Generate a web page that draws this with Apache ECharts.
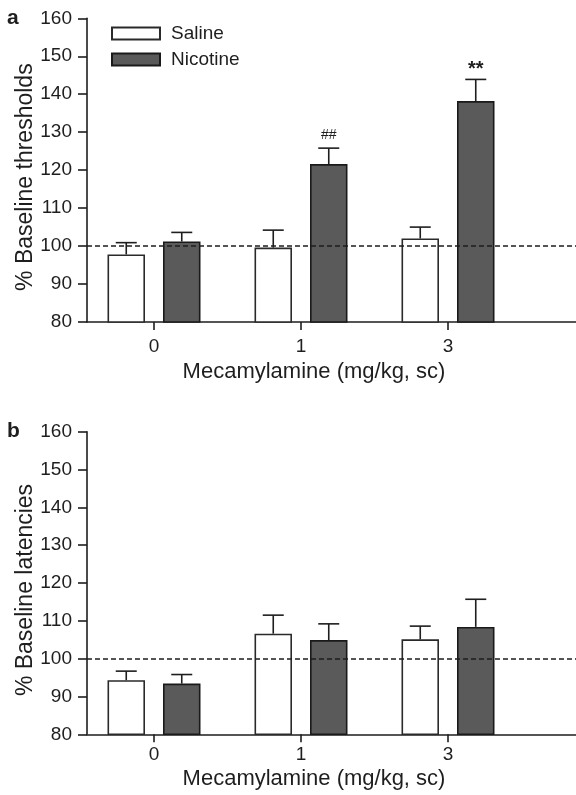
<!DOCTYPE html>
<html>
<head>
<meta charset="utf-8">
<script src="https://cdn.jsdelivr.net/npm/echarts@6/dist/echarts.min.js"></script>
<style>html,body{margin:0;padding:0;background:#fff;}#chart{width:576px;height:795px;}</style>
</head>
<body>
<div id="chart"></div>
<script>
// ---- data ----
const categories = ['0', '1', '3'];
const seriesNames = ['Saline', 'Nicotine'];
const yMin = 80, yMax = 160, yStep = 10;
const refValue = 100;

// Panel a: % Baseline thresholds
const thrSalineMean = [97.8, 99.6, 102.0];
const thrSalineSem = [3.1, 4.6, 3.0];
const thrNicotineMean = [101.2, 121.6, 138.2];
const thrNicotineSem = [2.4, 4.2, 5.7];
const thrSalineSig = ['', '', ''];
const thrNicotineSig = ['', '##', '**'];

// Panel b: % Baseline latencies
const latSalineMean = [94.3, 106.6, 105.1];
const latSalineSem = [2.4, 4.9, 3.5];
const latNicotineMean = [93.4, 104.9, 108.4];
const latNicotineSem = [2.4, 4.3, 7.3];
const latSalineSig = ['', '', ''];
const latNicotineSig = ['', '', ''];

const panelLabels = ['a', 'b'];
const yTitles = ['% Baseline thresholds', '% Baseline latencies'];
const xTitle = 'Mecamylamine (mg/kg, sc)';

// ---- style ----
const FONT = "'Liberation Sans', Arial, Helvetica, sans-serif";
const INK = '#1e1e1e';
const BAR_W = 37.5;
const BAR_GAP_PX = 18;
const HALF_OFF = (BAR_W + BAR_GAP_PX) / 2;
const CAP_HALF = 10.5;

const panels = [
  { top: 18.3, height: 303.7, tickMargin: 15, nameGap: 39, labelTop: 8,
    sal: thrSalineMean, salSem: thrSalineSem, nic: thrNicotineMean, nicSem: thrNicotineSem,
    salSig: thrSalineSig, nicSig: thrNicotineSig },
  { top: 431.7, height: 302.6, tickMargin: 11, nameGap: 34, labelTop: 421,
    sal: latSalineMean, salSem: latSalineSem, nic: latNicotineMean, nicSem: latNicotineSem,
    salSig: latSalineSig, nicSig: latNicotineSig }
];

function errRender(offset, sig) {
  return function (params, api) {
    const i = api.value(0);
    const p0 = api.coord([i, api.value(1)]);
    const p1 = api.coord([i, api.value(2)]);
    const x = p0[0] + offset;
    const children = [
      { type: 'line', shape: { x1: x, y1: p0[1], x2: x, y2: p1[1] }, style: { stroke: INK, lineWidth: 1.6 } },
      { type: 'line', shape: { x1: x - CAP_HALF, y1: p1[1], x2: x + CAP_HALF, y2: p1[1] }, style: { stroke: INK, lineWidth: 1.6 } }
    ];
    const s = sig[i];
    if (s) {
      const star = s.indexOf('*') >= 0;
      children.push({
        type: 'text',
        style: {
          text: s, x: x, y: p1[1] - (star ? 10 : 13),
          align: 'center', verticalAlign: 'middle',
          fill: INK, font: (star ? 'bold 20px ' : '14px ') + FONT
        }
      });
    }
    return { type: 'group', children: children };
  };
}

const grid = [], xAxis = [], yAxis = [], series = [], title = [];
panels.forEach(function (p, k) {
  const gMain = 2 * k, gBar = 2 * k + 1;
  grid.push({ left: 87, right: 0, top: p.top, height: p.height });
  grid.push({ left: 80.5, width: 441, top: p.top, height: p.height });
  title.push({ text: panelLabels[k], left: 7, top: p.labelTop, padding: 0,
    textStyle: { fontFamily: FONT, fontWeight: 'bold', fontSize: 21, color: INK } });
  xAxis.push({ type: 'value', gridIndex: gMain, min: 0, max: 1,
    axisLine: { show: true, lineStyle: { color: INK, width: 1.6 } },
    axisTick: { show: false }, axisLabel: { show: false }, splitLine: { show: false } });
  xAxis.push({ type: 'category', gridIndex: gBar, data: categories,
    axisLine: { show: false },
    axisTick: { show: true, alignWithLabel: true, length: 8, lineStyle: { color: INK, width: 1.6 } },
    axisLabel: { margin: p.tickMargin, fontSize: 19, fontFamily: FONT, color: INK },
    name: xTitle, nameLocation: 'middle', nameGap: p.nameGap, nameMoveOverlap: false,
    nameTextStyle: { fontSize: 22, fontFamily: FONT, color: INK, padding: [0, 0, 0, 26] } });
  yAxis.push({ type: 'value', gridIndex: gMain, min: yMin, max: yMax, interval: yStep,
    axisLine: { show: true, lineStyle: { color: INK, width: 1.6 } },
    axisTick: { show: true, length: 9, lineStyle: { color: INK, width: 1.6 } },
    axisLabel: { margin: 15, fontSize: 19, fontFamily: FONT, color: INK },
    splitLine: { show: false },
    name: yTitles[k], nameLocation: 'middle', nameGap: 50, nameRotate: 90, nameMoveOverlap: false,
    nameTextStyle: { fontSize: 23, fontFamily: FONT, color: INK, padding: [0, 14, 0, 0] } });
  yAxis.push({ type: 'value', gridIndex: gBar, min: yMin, max: yMax, interval: yStep, show: false });

  series.push({ name: seriesNames[0], type: 'bar', xAxisIndex: gBar, yAxisIndex: gBar,
    data: p.sal, barWidth: BAR_W, barGap: (BAR_GAP_PX / BAR_W * 100) + '%', z: 2,
    itemStyle: { color: '#ffffff', borderColor: '#2a2a2a', borderWidth: 1.6 } });
  series.push({ name: seriesNames[1], type: 'bar', xAxisIndex: gBar, yAxisIndex: gBar,
    data: p.nic, barWidth: BAR_W, z: 2,
    itemStyle: { color: '#5a5a5a', borderColor: '#1a1a1a', borderWidth: 1.6 } });
  series.push({ type: 'custom', xAxisIndex: gBar, yAxisIndex: gBar, z: 3,
    renderItem: errRender(-HALF_OFF, p.salSig),
    data: p.sal.map(function (m, i) { return [i, m, m + p.salSem[i]]; }) });
  series.push({ type: 'custom', xAxisIndex: gBar, yAxisIndex: gBar, z: 3,
    renderItem: errRender(HALF_OFF, p.nicSig),
    data: p.nic.map(function (m, i) { return [i, m, m + p.nicSem[i]]; }) });
  series.push({ type: 'line', xAxisIndex: gMain, yAxisIndex: gMain, data: [], z: 6,
    markLine: { silent: true, symbol: 'none', label: { show: false },
      lineStyle: { color: INK, type: [5, 3], width: 1.6 },
      data: [{ yAxis: refValue }] } });
});

const chart = echarts.init(document.getElementById('chart'), null, { renderer: 'canvas' });
chart.setOption({
  animation: false,
  backgroundColor: '#ffffff',
  title: title,
  legend: {
    data: seriesNames, orient: 'vertical', left: 111, top: 24, padding: 0,
    itemWidth: 48, itemHeight: 12, itemGap: 7, icon: 'rect',
    textStyle: { fontSize: 19, fontFamily: FONT, color: INK, padding: [0, 0, 0, 6] }
  },
  grid: grid, xAxis: xAxis, yAxis: yAxis, series: series
});
</script>
</body>
</html>
